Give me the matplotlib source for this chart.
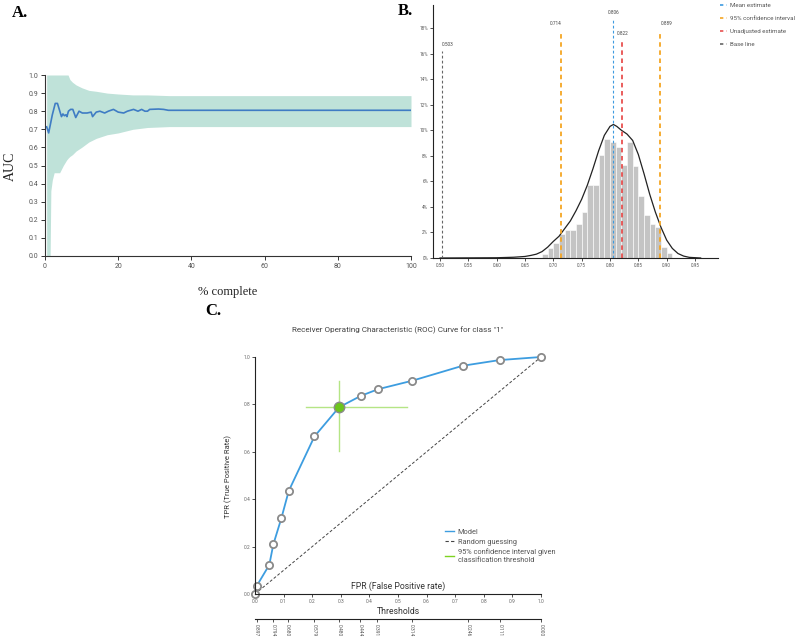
import matplotlib
matplotlib.use('Agg')
import matplotlib.pyplot as plt
from matplotlib.lines import Line2D
from matplotlib.ticker import FuncFormatter

# ---------------- data: panel A ----------------
a_x = [0.45, 1.0, 2.0, 2.8, 3.4, 4.5, 4.9, 5.3, 5.7, 6.0, 6.4, 7.0, 7.6, 8.4, 9.3, 10.2, 11.5, 12.6, 13.0, 14.0, 15.0, 16.3, 17.3, 18.7, 20.0, 21.5, 22.5, 24.2, 25.4, 26.4, 27.3, 28.0, 28.6, 31.0, 32.4, 33.7, 100.0]
a_y = [0.714, 0.68, 0.78, 0.843, 0.843, 0.77, 0.785, 0.775, 0.78, 0.77, 0.80, 0.81, 0.81, 0.765, 0.80, 0.79, 0.79, 0.795, 0.77, 0.795, 0.80, 0.79, 0.80, 0.81, 0.795, 0.79, 0.80, 0.81, 0.80, 0.81, 0.80, 0.80, 0.81, 0.812, 0.81, 0.805, 0.805]
band_x = [0.45, 1.4, 1.6, 2.0, 2.5, 4.0, 5.0, 5.9, 6.3, 6.8, 7.5, 8.5, 10.0, 12.0, 14.0, 17.0, 20.0, 24.0, 28.0, 34.0, 100.0]
band_hi = [1.0, 1.0, 1.0, 1.0, 1.0, 1.0, 1.0, 1.0, 1.0, 0.975, 0.96, 0.945, 0.93, 0.915, 0.91, 0.90, 0.895, 0.89, 0.89, 0.886, 0.886]
band_lo = [0.0, 0.0, 0.36, 0.42, 0.46, 0.46, 0.50, 0.53, 0.54, 0.55, 0.56, 0.58, 0.60, 0.63, 0.65, 0.67, 0.68, 0.70, 0.71, 0.715, 0.715]
a_xticks = [0, 20, 40, 60, 80, 100]
a_yticks = [0.0, 0.1, 0.2, 0.3, 0.4, 0.5, 0.6, 0.7, 0.8, 0.9, 1.0]

# ---------------- data: panel B ----------------
bin_left = [0.68, 0.69, 0.70, 0.71, 0.72, 0.73, 0.74, 0.75, 0.76, 0.77, 0.78, 0.79,
            0.80, 0.81, 0.82, 0.83, 0.84, 0.85, 0.86, 0.87, 0.88, 0.89, 0.90]
bin_pct = [0.3, 0.75, 1.2, 1.9, 2.2, 2.2, 2.7, 3.6, 5.7, 5.7, 8.05, 9.3,
           9.1, 8.7, 7.3, 9.1, 7.2, 4.85, 3.4, 2.7, 2.4, 0.87, 0.4]
kde_x = [0.50, 0.60, 0.63, 0.65, 0.66, 0.67, 0.68, 0.69, 0.70, 0.71, 0.72, 0.73, 0.74, 0.75, 0.76,
         0.77, 0.78, 0.79, 0.80, 0.806, 0.812, 0.82, 0.83, 0.84, 0.85, 0.86, 0.87, 0.88, 0.89,
         0.90, 0.91, 0.92, 0.93, 0.94, 0.96]
kde_pct = [0.0, 0.02, 0.06, 0.12, 0.2, 0.3, 0.5, 0.85, 1.3, 1.7, 2.3, 2.9, 3.7, 4.6, 5.7,
           7.0, 8.4, 9.6, 10.3, 10.45, 10.3, 10.0, 9.7, 9.2, 8.1, 6.6, 5.0, 3.6, 2.4,
           1.4, 0.75, 0.35, 0.15, 0.05, 0.0]
b_lines_x = [0.806, 0.714, 0.889, 0.822, 0.503]
b_lines_top = [18.7, 17.8, 17.8, 17.0, 16.2]
b_lines_lab = ['0.806', '0.714', '0.889', '0.822', '0.503']
b_lines_col = ['#3d9be0', '#f5a623', '#f5a623', '#e8504f', '#666666']
b_legend = ['Mean estimate', '95% confidence interval', 'Unadjusted estimate', 'Base line']
b_legend_col = ['#3d9be0', '#f5a623', '#e8504f', '#666666']
b_xticks = [0.50, 0.55, 0.60, 0.65, 0.70, 0.75, 0.80, 0.85, 0.90, 0.95]
b_yticks = [0, 2, 4, 6, 8, 10, 12, 14, 16, 18]

# ---------------- data: panel C ----------------
roc_fpr = [0.0, 0.006, 0.05, 0.064, 0.092, 0.118, 0.208, 0.294, 0.37, 0.43, 0.55, 0.726, 0.855, 1.0]
roc_tpr = [0.0, 0.034, 0.123, 0.209, 0.319, 0.435, 0.665, 0.788, 0.836, 0.864, 0.90, 0.963, 0.987, 1.0]
sel_idx = 7
ci_fpr = [0.178, 0.533]
ci_tpr = [0.603, 0.897]
thr_pos = [0.006, 0.064, 0.114, 0.208, 0.294, 0.367, 0.425, 0.548, 0.745, 0.857, 1.0]
thr_lab = ['0.897', '0.794', '0.680', '0.579', '0.480', '0.444', '0.391', '0.314', '0.246', '0.111', '0.000']
c_ticks = [0.0, 0.1, 0.2, 0.3, 0.4, 0.5, 0.6, 0.7, 0.8, 0.9, 1.0]
c_yticks = [0.0, 0.2, 0.4, 0.6, 0.8, 1.0]

W, H = 800, 638
fig = plt.figure(figsize=(W / 100, H / 100), dpi=100)


def pax(l, t, r, b):
    return fig.add_axes([l / W, 1 - b / H, (r - l) / W, (b - t) / H])


def fx(px):
    return px / W


def fy(py):
    return 1 - py / H


SERIF = ['Liberation Serif', 'DejaVu Serif']
SANS = ['Roboto', 'DejaVu Sans']

# ================= Panel A =================
axA = pax(45, 75, 411, 256)
axA.fill_between(band_x, band_lo, band_hi, color='#bfe2d9', lw=0)
axA.plot(a_x, a_y, color='#3f7cc4', lw=1.2)
axA.set_xlim(0, 100)
axA.set_ylim(0, 1)
axA.set_xticks(a_xticks)
axA.set_xticklabels([str(t) for t in a_xticks])
axA.set_yticks(a_yticks)
axA.set_yticklabels(['%.1f' % t for t in a_yticks])
for s in ['top', 'right']:
    axA.spines[s].set_visible(False)
for s in ['left', 'bottom']:
    axA.spines[s].set_color('#333333')
    axA.spines[s].set_linewidth(0.8)
axA.tick_params(labelsize=5, labelcolor='#555555', color='#333333', length=3, width=0.7, pad=2)
for lab in axA.get_xticklabels() + axA.get_yticklabels():
    lab.set_family(SANS)
fig.text(fx(10), fy(166), 'AUC', rotation=90, ha='center', va='center', fontsize=10, family=SERIF, color='#222222')
fig.text(fx(228), fy(292), '% complete', ha='center', va='center', fontsize=9, family=SERIF, color='#222222')
fig.text(fx(12), fy(13), 'A.', ha='left', va='center', fontsize=12, weight='bold', family=SERIF)

# ================= Panel B =================
axB = pax(433, 5, 718, 258)
axB.bar(bin_left, bin_pct, width=0.01, align='edge', color='#c4c4c4', edgecolor='white', linewidth=0.4)
axB.plot(kde_x, kde_pct, color='#222222', lw=0.9)
for x, top, lab, col in zip(b_lines_x, b_lines_top, b_lines_lab, b_lines_col):
    lw = 1.3 if col in ('#f5a623', '#e8504f') else 0.8
    axB.plot([x, x], [0, top], color=col, lw=lw, linestyle=(0, (2.5, 2)))
ha_map = {'0.806': 'center', '0.714': 'right', '0.889': 'left', '0.822': 'center', '0.503': 'left'}
for x, top, lab in zip(b_lines_x, b_lines_top, b_lines_lab):
    axB.text(x, top + 0.35, lab, ha=ha_map[lab], va='bottom', fontsize=3.4, color='#444444', family=SANS)
axB.set_xlim(0.4876, 0.9906)
axB.set_ylim(0, 19.8)
axB.set_xticks(b_xticks)
axB.set_xticklabels(['%.2f' % t for t in b_xticks])
axB.set_yticks(b_yticks)
axB.yaxis.set_major_formatter(FuncFormatter(lambda v, p: '%d%%' % v))
for s in ['top', 'right']:
    axB.spines[s].set_visible(False)
for s in ['left', 'bottom']:
    axB.spines[s].set_color('#222222')
    axB.spines[s].set_linewidth(0.8)
axB.tick_params(labelsize=3.3, labelcolor='#555555', color='#333333', length=2, width=0.6, pad=1.5)
for lab in axB.get_xticklabels() + axB.get_yticklabels():
    lab.set_family(SANS)
handlesB = [Line2D([], [], color=c, lw=1.2, linestyle=(0, (2, 2))) for c in b_legend_col]
legB = fig.legend(handlesB, b_legend, loc='upper left', bbox_to_anchor=(fx(719), fy(2)),
                  frameon=False, handlelength=1.2, handletextpad=0.5, borderpad=0.1,
                  borderaxespad=0, labelspacing=1.25, prop={'family': SANS, 'size': 4.4})
for t in legB.get_texts():
    t.set_color('#555555')
fig.text(fx(398), fy(11), 'B.', ha='left', va='center', fontsize=12, weight='bold', family=SERIF)

# ================= Panel C =================
axC = pax(255, 357, 541, 594)
axC.plot([0, 1], [0, 1], color='#444444', lw=0.7, linestyle=(0, (3, 2)), label='Random guessing')
axC.plot(ci_fpr, [roc_tpr[sel_idx]] * 2, color='#b5e585', lw=1.0, clip_on=False)
axC.plot([roc_fpr[sel_idx]] * 2, ci_tpr, color='#b5e585', lw=1.0, clip_on=False)
axC.plot(roc_fpr, roc_tpr, color='#3d9de0', lw=1.3, clip_on=False)
axC.plot(roc_fpr, roc_tpr, linestyle='none', marker='o', markersize=5.2, markerfacecolor='white',
         markeredgecolor='#8a8a8a', markeredgewidth=1.3, clip_on=False)
axC.plot([roc_fpr[sel_idx]], [roc_tpr[sel_idx]], linestyle='none', marker='o', markersize=7.5,
         markerfacecolor='#6cc51c', markeredgecolor='#8a8a8a', markeredgewidth=1.0, clip_on=False)
axC.set_xlim(0, 1)
axC.set_ylim(0, 1)
axC.set_xticks(c_ticks)
axC.set_xticklabels(['%.1f' % t for t in c_ticks])
axC.set_yticks(c_yticks)
axC.set_yticklabels(['%.1f' % t for t in c_yticks])
for s in ['top', 'right']:
    axC.spines[s].set_visible(False)
for s in ['left', 'bottom']:
    axC.spines[s].set_color('#222222')
    axC.spines[s].set_linewidth(0.8)
axC.tick_params(labelsize=3.5, labelcolor='#666666', color='#333333', length=2, width=0.6, pad=1.5)
for lab in axC.get_xticklabels() + axC.get_yticklabels():
    lab.set_family(SANS)
axC.text(0.5, 0.034, 'FPR (False Positive rate)', transform=axC.transAxes, ha='center', va='center',
         fontsize=6.2, color='#333333', family=SANS)
fig.text(fx(228), fy(476), 'TPR (True Positive Rate)', rotation=90, ha='center', va='center',
         fontsize=5.5, color='#333333', family=SANS)
fig.text(fx(398), fy(330), 'Receiver Operating Characteristic (ROC) Curve for class "1"', ha='center', va='center',
         fontsize=5.9, color='#444444', family=SANS)
handlesC = [Line2D([], [], color='#3d9de0', lw=1.0),
            Line2D([], [], color='#444444', lw=0.8, linestyle=(0, (3, 2))),
            Line2D([], [], color='#7ed321', lw=1.0)]
labsC = ['Model', 'Random guessing', '95% confidence interval given\nclassification threshold']
legC = fig.legend(handlesC, labsC, loc='upper left', bbox_to_anchor=(fx(438), fy(522)),
                  frameon=False, handlelength=1.3, handletextpad=0.5, labelspacing=0.35,
                  prop={'family': SANS, 'size': 5.3})
for t in legC.get_texts():
    t.set_color('#555555')

# thresholds axis
axT = fig.add_axes([fx(255), fy(619), (541 - 255) / W, 0.0005])
axT.set_xlim(0, 1)
axT.set_ylim(0, 1)
axT.set_yticks([])
for s in ['top', 'right', 'left']:
    axT.spines[s].set_visible(False)
axT.spines['bottom'].set_color('#222222')
axT.spines['bottom'].set_linewidth(0.8)
axT.patch.set_alpha(0)
axT.set_xticks(thr_pos)
axT.set_xticklabels(thr_lab, rotation=-90)
axT.tick_params(labelsize=3.5, labelcolor='#555555', color='#333333', length=2, width=0.6, pad=1.5)
for lab in axT.get_xticklabels():
    lab.set_family(SANS)
fig.text(fx(398), fy(612), 'Thresholds', ha='center', va='center', fontsize=6.2, color='#333333', family=SANS)
fig.text(fx(205), fy(311), 'C.', ha='left', va='center', fontsize=12, weight='bold', family=SERIF)

fig.savefig('out.png', dpi=100)
